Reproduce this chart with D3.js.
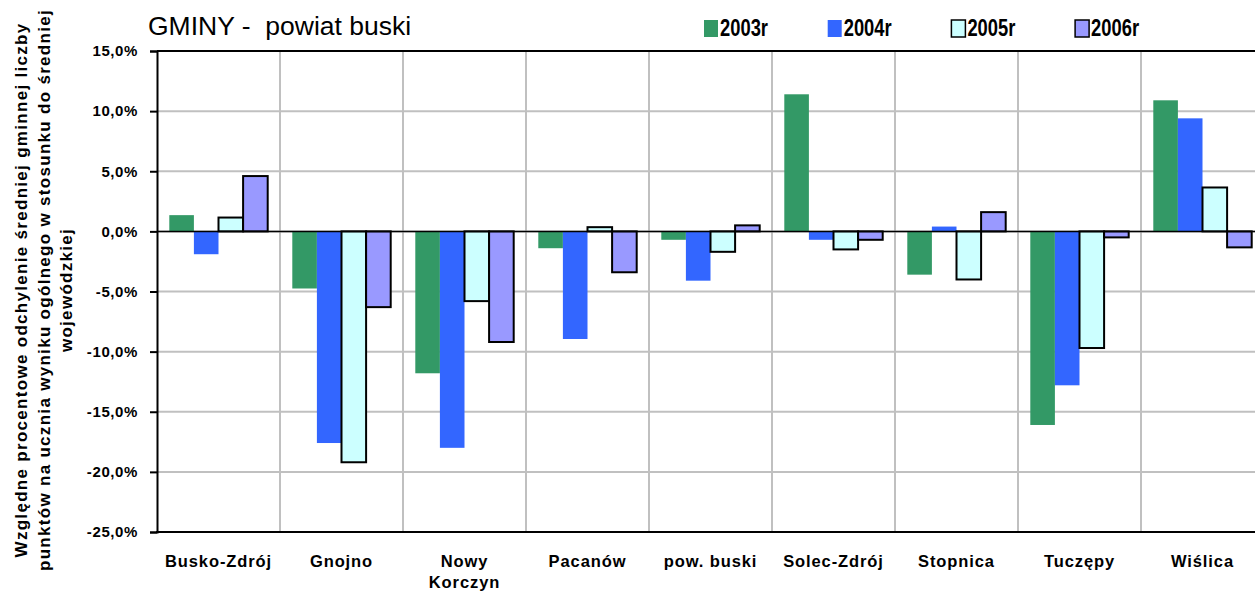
<!DOCTYPE html>
<html>
<head>
<meta charset="utf-8">
<script src="https://cdn.jsdelivr.net/npm/d3@7"></script>
<style>
  body { margin: 0; background: #fff; }
  svg { display: block; font-family: "Liberation Sans", Arial, sans-serif; }
</style>
</head>
<body>
<div id="chart"></div>
<script>
// categories and series (percent)
const gminy = ["Busko-Zdrój", "Gnojno", "Nowy Korczyn", "Pacanów", "pow. buski",
               "Solec-Zdrój", "Stopnica", "Tuczępy", "Wiślica"];
const years = ["2003r", "2004r", "2005r", "2006r"];
const v2003 = [1.35, -4.75, -11.8, -1.4, -0.7, 11.4, -3.6, -16.1, 10.9];
const v2004 = [-1.9, -17.6, -18.0, -8.95, -4.1, -0.7, 0.4, -12.8, 9.4];
const v2005 = [1.15, -19.2, -5.8, 0.35, -1.7, -1.5, -4.0, -9.7, 3.65];
const v2006 = [4.6, -6.3, -9.2, -3.4, 0.5, -0.7, 1.6, -0.5, -1.33];
const yTicks = [-25, -20, -15, -10, -5, 0, 5, 10, 15];
const titleText = "GMINY -  powiat buski";
const yTitle = ["Względne procentowe odchylenie średniej gminnej liczby",
                "punktów na ucznia wyniku ogólnego w stosunku do średniej",
                "wojewódzkiej"];

const series = [v2003, v2004, v2005, v2006];
const fills = ["#339966", "#3366ff", "#ccffff", "#9999ff"];
const outlined = [false, false, true, true];

const W = 1255, H = 591;
const plot = {left: 157, top: 51, bottom: 532, band: 123};

const svg = d3.select("#chart").append("svg")
    .attr("width", W)
    .attr("height", H);

const x = d3.scaleBand()
    .domain(gminy)
    .range([plot.left, plot.left + plot.band * gminy.length])
    .padding(0);

const xs = d3.scaleBand()
    .domain(years)
    .range([0.1 * plot.band, 0.9 * plot.band]);

const y = d3.scaleLinear()
    .domain([-25, 15])
    .range([plot.bottom, plot.top]);

const right = x.range()[1];

// grid
const grid = svg.append("g").attr("class", "grid");
grid.selectAll("line.h")
  .data(yTicks)
  .enter().append("line")
    .attr("x1", plot.left).attr("x2", right)
    .attr("y1", d => y(d)).attr("y2", d => y(d))
    .attr("stroke", "#c0c0c0").attr("stroke-width", 2);
grid.selectAll("line.v")
  .data(gminy.slice(1))
  .enter().append("line")
    .attr("x1", d => x(d)).attr("x2", d => x(d))
    .attr("y1", plot.top).attr("y2", plot.bottom)
    .attr("stroke", "#c0c0c0").attr("stroke-width", 2);

// top border
svg.append("line")
    .attr("x1", plot.left).attr("x2", right)
    .attr("y1", plot.top).attr("y2", plot.top)
    .attr("stroke", "#000").attr("stroke-width", 2);

// bars
series.forEach((vals, si) => {
    svg.append("g")
      .selectAll("rect")
      .data(vals)
      .enter().append("rect")
        .attr("x", (d, i) => x(gminy[i]) + xs(years[si]))
        .attr("width", xs.bandwidth())
        .attr("y", d => y(Math.max(0, d)))
        .attr("height", d => Math.abs(y(d) - y(0)))
        .attr("fill", fills[si])
        .attr("stroke", outlined[si] ? "#000" : "none")
        .attr("stroke-width", 2);
});

// zero line
svg.append("line")
    .attr("x1", plot.left).attr("x2", right)
    .attr("y1", y(0)).attr("y2", y(0))
    .attr("stroke", "#000").attr("stroke-width", 1.5);

// y axis
const fmt = v => (v < 0 ? "-" : "") + Math.abs(v).toFixed(1).replace(".", ",") + "%";
const gY = svg.append("g")
    .attr("transform", `translate(${plot.left},0)`)
    .call(d3.axisLeft(y).tickValues(yTicks).tickFormat(fmt).tickSize(7).tickPadding(12));
gY.select(".domain").attr("stroke", "#000").attr("stroke-width", 2);
gY.selectAll(".tick line").attr("stroke", "#000").attr("stroke-width", 2);
gY.selectAll(".tick text")
    .attr("fill", "#000")
    .style("font-family", "'Liberation Sans', Arial, sans-serif")
    .style("font-size", "15px")
    .style("font-weight", "bold")
    .style("letter-spacing", "0.6px");

// x axis line
svg.append("line")
    .attr("x1", plot.left - 1).attr("x2", right)
    .attr("y1", plot.bottom).attr("y2", plot.bottom)
    .attr("stroke", "#000").attr("stroke-width", 2);

// category labels
const labels = svg.append("g")
  .selectAll("text")
  .data(gminy)
  .enter().append("text")
    .attr("x", d => x(d) + x.bandwidth() / 2)
    .attr("y", 567)
    .attr("text-anchor", "middle")
    .style("font-size", "16.5px")
    .style("font-weight", "bold")
    .style("letter-spacing", "0.9px");
labels.each(function (d) {
    const parts = d === "Nowy Korczyn" ? ["Nowy", "Korczyn"] : [d];
    const t = d3.select(this);
    parts.forEach((p, k) => {
        t.append("tspan")
            .attr("x", x(d) + x.bandwidth() / 2)
            .attr("dy", k === 0 ? 0 : 21)
            .text(p);
    });
});

// y title
const yt = svg.append("text")
    .attr("transform", "rotate(-90)")
    .attr("text-anchor", "middle")
    .style("font-size", "17px")
    .style("font-weight", "bold")
    .style("letter-spacing", "1.3px");
yTitle.forEach((line, k) => {
    yt.append("tspan")
        .attr("x", -290)
        .attr("y", 27 + k * 22.5)
        .text(line);
});

// chart title
svg.append("text")
    .attr("x", 148)
    .attr("y", 35)
    .style("font-size", "26.5px")
    .style("white-space", "pre")
    .text(titleText);

// legend
const legend = svg.append("g")
  .selectAll("g")
  .data(years)
  .enter().append("g")
    .attr("transform", (d, i) => `translate(${704 + i * 123.7},20)`);
legend.append("rect")
    .attr("width", 14).attr("height", 17)
    .attr("fill", (d, i) => fills[i])
    .attr("stroke", (d, i) => outlined[i] ? "#000" : "none")
    .attr("stroke-width", 1.5);
legend.append("text")
    .attr("x", 16)
    .attr("y", 16)
    .attr("textLength", 48)
    .attr("lengthAdjust", "spacingAndGlyphs")
    .style("font-size", "23px")
    .style("font-weight", "bold")
    .text(d => d);
</script>
</body>
</html>
